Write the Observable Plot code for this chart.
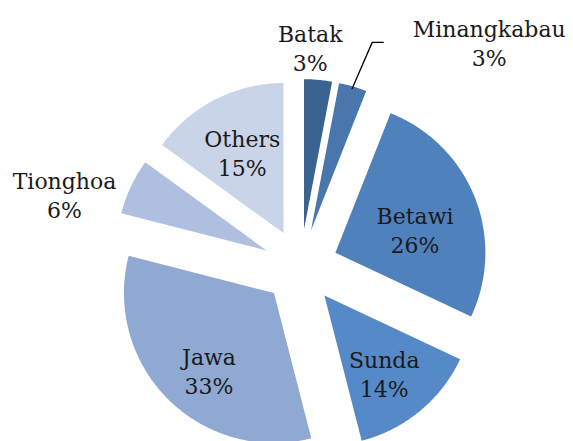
<!DOCTYPE html>
<html>
<head>
<meta charset="utf-8">
<script src="https://cdn.jsdelivr.net/npm/d3@7"></script>
<script src="https://cdn.jsdelivr.net/npm/@observablehq/plot@0.6"></script>
<style>
  html, body { margin: 0; padding: 0; background: #fff; overflow: hidden; }
  #chart svg { display: block; }
</style>
</head>
<body>
<div id="chart"></div>
<script>
// ---- data ----
const categories = ["Batak", "Minangkabau", "Betawi", "Sunda", "Jawa", "Tionghoa", "Others"];
const shares = [3, 3, 26, 14, 33, 6, 15];
const labels = ["3%", "3%", "26%", "14%", "33%", "6%", "15%"];

// ---- styles / layout ----
const colors = ["#3b6391", "#4876ad", "#4f81bd", "#5589c7", "#8fa9d3", "#aebfdf", "#cad4e8"];
const W = 573, H = 441;
const PX = 150;          // pixels per radius unit
const CX = 300, CY = 266; // pie centre in pixels
const EXPLODE = 0.25;    // explosion as fraction of radius
// label placement: radius along mid-angle (from exploded tip) + pixel nudge
const labelR  = [1.216, 1.535, 0.55, 0.657, 0.669, 1.378, 0.605];
const labelDX = [-11, 114, 3, -3, 6, -15, 0];
const labelDY = [0, 33, 7, 2, 6, 32, 0];
const leaderFor = "Minangkabau";

const pie = d3.pie().sort(null).value(d => d)(shares);

const slicePts = [];
const labelRows = [];
let leaderPts = [];
pie.forEach((p, i) => {
  const a0 = p.startAngle, a1 = p.endAngle, m = (a0 + a1) / 2;
  const ox = EXPLODE * Math.sin(m), oy = EXPLODE * Math.cos(m);
  const name = categories[i];
  slicePts.push({name, color: colors[i], x: ox, y: oy});
  const N = Math.max(8, Math.ceil((a1 - a0) / 0.01));
  for (let k = 0; k <= N; k++) {
    const a = a0 + (a1 - a0) * k / N;
    slicePts.push({name, color: colors[i], x: ox + Math.sin(a), y: oy + Math.cos(a)});
  }
  const lx = ox + labelR[i] * Math.sin(m) + labelDX[i] / PX;
  const ly = oy + labelR[i] * Math.cos(m) - labelDY[i] / PX;
  labelRows.push({x: lx, y: ly, text: name + "\n" + labels[i]});
  if (name === leaderFor) {
    leaderPts = [
      {x: ox + 0.985 * Math.sin(m), y: oy + 0.985 * Math.cos(m)},
      {x: lx - 117 / PX, y: ly},
      {x: lx - 106 / PX, y: ly}
    ];
  }
});

const chart = Plot.plot({
  width: W,
  height: H,
  margin: 0,
  x: {domain: [-CX / PX, (W - CX) / PX], axis: null},
  y: {domain: [-(H - CY) / PX, CY / PX], axis: null},
  style: {background: "#fff"},
  marks: [
    Plot.line(slicePts, {x: "x", y: "y", z: "name", fill: "color", stroke: null, curve: "linear-closed"}),
    Plot.line(leaderPts, {x: "x", y: "y", stroke: "#000", strokeWidth: 1.3}),
    Plot.text(labelRows, {
      x: "x", y: "y", text: "text",
      fontFamily: "DejaVu Serif", fontSize: 22, lineHeight: 1.32,
      fill: "#1a1a1a", textAnchor: "middle", lineAnchor: "middle"
    })
  ]
});
document.getElementById("chart").appendChild(chart);
</script>
</body>
</html>
